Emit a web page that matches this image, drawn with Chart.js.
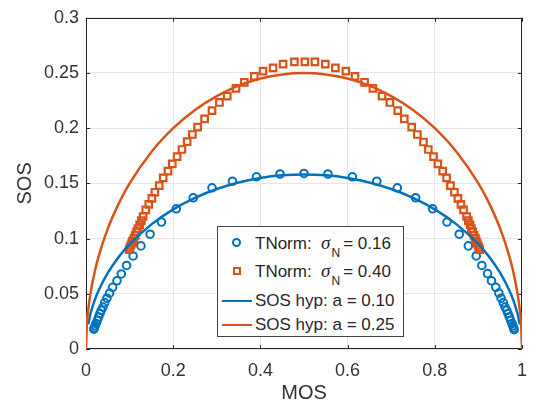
<!DOCTYPE html>
<html>
<head>
<meta charset="utf-8">
<script src="https://cdn.jsdelivr.net/npm/chart.js@4.4.0/dist/chart.umd.min.js"></script>
<style>
  html, body { margin: 0; padding: 0; background: #fff; }
  #wrap { position: relative; width: 538px; height: 412px; }
  #legend {
    position: absolute; left: 217px; top: 226px; width: 185px; height: 109px;
    border: 1px solid #444; background: #fff;
    font-family: "Liberation Sans", Arial, sans-serif; font-size: 17px; color: #262626;
  }
  .row { position: absolute; left: 0; width: 185px; height: 20px; line-height: 20px; white-space: nowrap; }
  .txt { position: absolute; left: 37px; top: 0; }
  .sig { font-family: "Liberation Serif", serif; font-style: italic; font-size: 19px; }
  .sub { font-size: 12px; position: relative; top: 8px; margin-left: 1px; margin-right: 3px; }
  .circ { position: absolute; left: 14px; top: 5px; width: 5px; height: 5px; border: 2px solid #0072BD; border-radius: 50%; }
  .sq { position: absolute; left: 15px; top: 6px; width: 4px; height: 4px; border: 2px solid #D95319; }
  .ln { position: absolute; left: 4px; top: 9px; width: 30px; height: 2px; }
</style>
</head>
<body>
<div id="wrap">
  <canvas id="sosChart" width="538" height="412"></canvas>
  <div id="legend">
    <div class="row" style="top:6px"><span class="circ"></span><span class="txt">TNorm:&nbsp; <span class="sig">σ</span><span class="sub">N</span>= 0.16</span></div>
    <div class="row" style="top:34px"><span class="sq"></span><span class="txt">TNorm:&nbsp; <span class="sig">σ</span><span class="sub">N</span>= 0.40</span></div>
    <div class="row" style="top:64px"><span class="ln" style="background:#0072BD"></span><span class="txt">SOS hyp: a = 0.10</span></div>
    <div class="row" style="top:88px"><span class="ln" style="background:#D95319"></span><span class="txt">SOS hyp: a = 0.25</span></div>
  </div>
</div>
<script>
// axis ticks
const xTicks = [0, 0.2, 0.4, 0.6, 0.8, 1];
const xTickLabels = ['0', '0.2', '0.4', '0.6', '0.8', '1'];
const yTicks = [0, 0.05, 0.1, 0.15, 0.2, 0.25, 0.3];
const yTickLabels = ['0', '0.05', '0.1', '0.15', '0.2', '0.25', '0.3'];

// TNorm sigma_N = 0.16 (circles)
const circMos = [0.018, 0.019, 0.021, 0.023, 0.026, 0.029, 0.032, 0.035, 0.039, 0.043, 0.048,
  0.054, 0.061, 0.071, 0.081, 0.093, 0.108, 0.126, 0.147, 0.173, 0.207, 0.246, 0.289, 0.336, 0.391,
  0.445, 0.500, 0.555, 0.611, 0.667, 0.714, 0.756, 0.795, 0.828, 0.856, 0.877, 0.895, 0.908, 0.921,
  0.930, 0.940, 0.947,
  0.952, 0.957, 0.961, 0.965, 0.968, 0.971, 0.974, 0.977, 0.979, 0.981, 0.982];
const circSos = [0.018, 0.019, 0.021, 0.023, 0.026, 0.029, 0.032, 0.035, 0.038, 0.042, 0.046,
  0.0506, 0.0559, 0.0618, 0.068, 0.0757, 0.0843, 0.0934, 0.104, 0.115, 0.127, 0.137, 0.146, 0.152, 0.156,
  0.1585, 0.159, 0.1585, 0.156, 0.152, 0.146, 0.137, 0.127, 0.115, 0.104, 0.0934, 0.0843, 0.0757, 0.0683,
  0.0618, 0.0559, 0.0506,
  0.046, 0.042, 0.038, 0.035, 0.032, 0.029, 0.026, 0.023, 0.021, 0.019, 0.0175];

// TNorm sigma_N = 0.40 (squares)
const sqMos = [0.099, 0.101, 0.103, 0.105, 0.107, 0.110, 0.113, 0.116, 0.119, 0.123, 0.127,
  0.131, 0.137, 0.144, 0.151, 0.158, 0.168, 0.177, 0.188, 0.198, 0.209, 0.220, 0.232, 0.244, 0.256,
  0.272, 0.289, 0.306, 0.324, 0.344, 0.363, 0.386, 0.406, 0.429, 0.452,
  0.478, 0.502, 0.525,
  0.549, 0.572, 0.596, 0.617, 0.639, 0.658, 0.679, 0.697, 0.715, 0.730, 0.747, 0.760, 0.774, 0.785,
  0.797, 0.807, 0.818, 0.827, 0.836, 0.845, 0.853, 0.860, 0.866, 0.873,
  0.877, 0.881, 0.884, 0.887, 0.890, 0.893, 0.895, 0.897, 0.899, 0.901, 0.903];
const sqSos = [0.090, 0.092, 0.094, 0.096, 0.098, 0.1005, 0.103, 0.106, 0.109, 0.1125, 0.1163,
  0.120, 0.126, 0.131, 0.1364, 0.142, 0.148, 0.155, 0.1612, 0.1677, 0.1742, 0.1807, 0.1878, 0.1943, 0.201,
  0.2085, 0.216, 0.2233, 0.229, 0.236, 0.2416, 0.247, 0.2517, 0.2547, 0.258,
  0.260, 0.260, 0.260,
  0.258, 0.2547, 0.2517, 0.247, 0.2416, 0.236, 0.229, 0.2233, 0.216, 0.2085, 0.201, 0.1943, 0.1875, 0.1807,
  0.1742, 0.1677, 0.1612, 0.155, 0.148, 0.142, 0.1364, 0.131, 0.126, 0.120,
  0.1163, 0.1125, 0.109, 0.106, 0.103, 0.1005, 0.098, 0.096, 0.094, 0.092, 0.090];

// SOS hypothesis curves
const hypMos10 = [0.005, 0.01, 0.02, 0.03, 0.05, 0.075, 0.1, 0.15, 0.2, 0.25, 0.3, 0.35, 0.4, 0.45, 0.5,
  0.55, 0.6, 0.65, 0.7, 0.75, 0.8, 0.85, 0.9, 0.925, 0.95, 0.97, 0.98, 0.99, 0.995];
const hypSos10 = [0.0223, 0.0315, 0.0443, 0.0539, 0.0689, 0.0833, 0.0949, 0.1129, 0.1265, 0.1369, 0.1449, 0.1508, 0.1549, 0.1573, 0.1581,
  0.1573, 0.1549, 0.1508, 0.1449, 0.1369, 0.1265, 0.1129, 0.0949, 0.0833, 0.0689, 0.0539, 0.0443, 0.0315, 0.0223];
const hypMos25 = [0, 0.002, 0.005, 0.01, 0.02, 0.03, 0.05, 0.075, 0.1, 0.15, 0.2, 0.25, 0.3, 0.35, 0.4, 0.45, 0.5,
  0.55, 0.6, 0.65, 0.7, 0.75, 0.8, 0.85, 0.9, 0.925, 0.95, 0.97, 0.98, 0.99, 0.995, 0.998, 1];
const hypSos25 = [0, 0.0223, 0.0353, 0.0497, 0.070, 0.0853, 0.109, 0.1317, 0.150, 0.1785, 0.200, 0.2165, 0.229, 0.2385, 0.245, 0.2487, 0.25,
  0.2487, 0.245, 0.2385, 0.229, 0.2165, 0.200, 0.1785, 0.150, 0.1317, 0.109, 0.0853, 0.070, 0.0497, 0.0353, 0.0223, 0];

const BLUE = '#0072BD';
const RED = '#D95319';
const FONT = '"Liberation Sans", Arial, sans-serif';

const pts = (xs, ys) => xs.map((x, i) => ({ x: x, y: ys[i] }));

// box around the axes + inward tick marks (matlab style)
const boxPlugin = {
  id: 'box',
  beforeDatasetsDraw(chart) {
    const { ctx, chartArea: a, scales } = chart;
    ctx.save();
    ctx.strokeStyle = '#262626';
    ctx.lineWidth = 1;
    ctx.beginPath();
    xTicks.forEach(v => {
      const px = Math.round(scales.x.getPixelForValue(v)) + 0.5;
      ctx.moveTo(px, a.bottom); ctx.lineTo(px, a.bottom - 4);
      ctx.moveTo(px, a.top); ctx.lineTo(px, a.top + 4);
    });
    yTicks.forEach(v => {
      const py = Math.round(scales.y.getPixelForValue(v)) + 0.5;
      ctx.moveTo(a.left, py); ctx.lineTo(a.left + 4, py);
      ctx.moveTo(a.right, py); ctx.lineTo(a.right - 4, py);
    });
    ctx.stroke();
    ctx.strokeRect(Math.round(a.left) + 0.5, Math.round(a.top) + 0.5,
      Math.round(a.right - a.left) - 1, Math.round(a.bottom - a.top) - 1);
    ctx.restore();
  }
};

new Chart(document.getElementById('sosChart'), {
  type: 'scatter',
  data: {
    datasets: [
      {
        label: 'TNorm: σN = 0.16',
        data: pts(circMos, circSos),
        pointStyle: 'circle',
        pointRadius: 3.8,
        borderColor: BLUE,
        backgroundColor: 'rgba(0,0,0,0)',
        pointBorderWidth: 2,
        order: 3
      },
      {
        label: 'TNorm: σN = 0.40',
        data: pts(sqMos, sqSos),
        pointStyle: 'rect',
        pointRadius: 4.6,
        borderColor: RED,
        backgroundColor: 'rgba(0,0,0,0)',
        pointBorderWidth: 2.2,
        order: 2
      },
      {
        label: 'SOS hyp: a = 0.10',
        data: pts(hypMos10, hypSos10),
        showLine: true,
        pointRadius: 0,
        borderColor: BLUE,
        borderWidth: 2.5,
        cubicInterpolationMode: 'monotone',
        order: 1
      },
      {
        label: 'SOS hyp: a = 0.25',
        data: pts(hypMos25, hypSos25),
        showLine: true,
        pointRadius: 0,
        borderColor: RED,
        borderWidth: 2.5,
        cubicInterpolationMode: 'monotone',
        order: 0
      }
    ]
  },
  options: {
    responsive: false,
    animation: false,
    layout: { padding: { top: 11, right: 6, left: 0, bottom: 0 } },
    plugins: {
      legend: { display: false },
      tooltip: { enabled: false }
    },
    scales: {
      x: {
        type: 'linear',
        min: 0, max: 1,
        afterBuildTicks: s => { s.ticks = xTicks.map(v => ({ value: v })); },
        afterFit: s => { s.height = 63; },
        grid: { color: '#e6e6e6', drawTicks: false },
        border: { display: false },
        ticks: {
          color: '#333', padding: 11,
          font: { family: FONT, size: 18 },
          callback: (v, i) => xTickLabels[i]
        },
        title: {
          display: true, text: 'MOS', color: '#333',
          font: { family: FONT, size: 20 },
          padding: { top: 0, bottom: 7 }
        }
      },
      y: {
        type: 'linear',
        min: 0, max: 0.3,
        afterBuildTicks: s => { s.ticks = yTicks.map(v => ({ value: v })); },
        afterFit: s => { s.width = 86; },
        grid: { color: '#e6e6e6', drawTicks: false },
        border: { display: false },
        ticks: {
          color: '#333', padding: 7,
          font: { family: FONT, size: 18 },
          callback: (v, i) => yTickLabels[i]
        },
        title: {
          display: true, text: 'SOS', color: '#333',
          font: { family: FONT, size: 20 },
          padding: { top: 13, bottom: 0 }
        }
      }
    }
  },
  plugins: [boxPlugin]
});
</script>
</body>
</html>
